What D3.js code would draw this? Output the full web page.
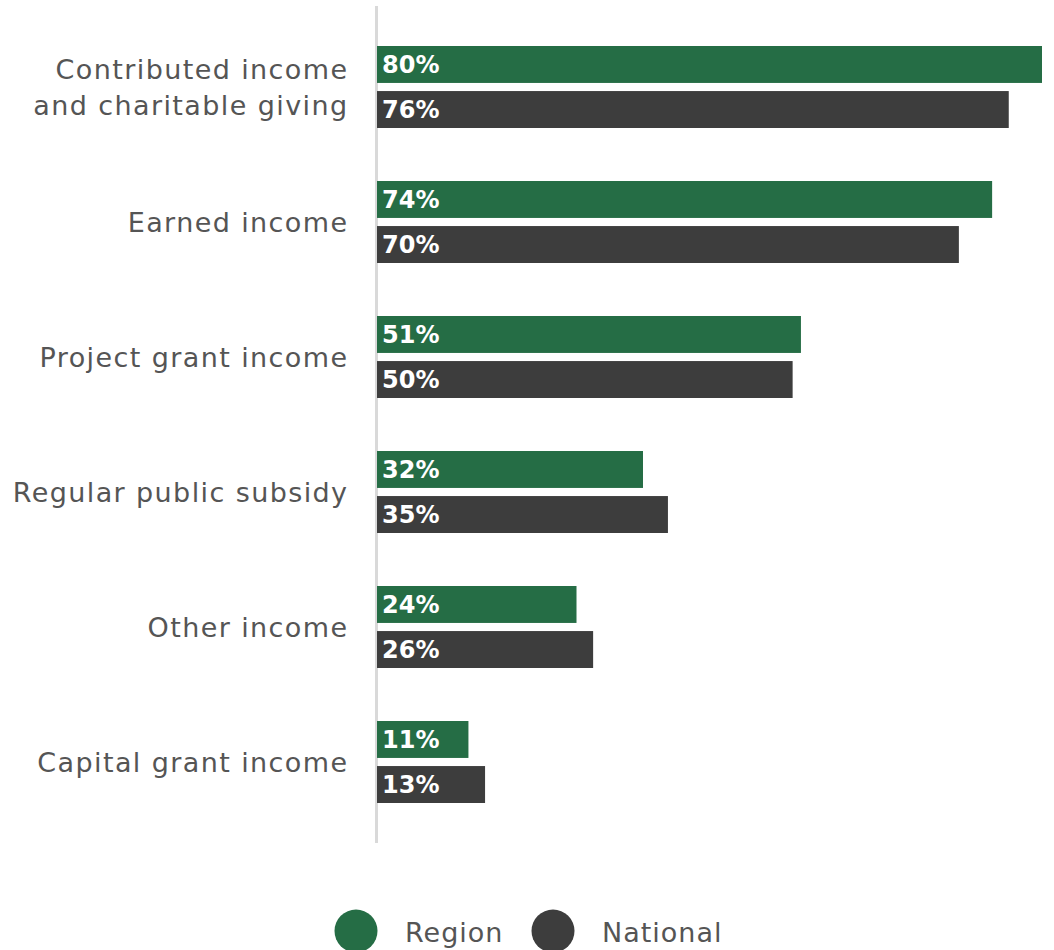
<!DOCTYPE html>
<html><head><meta charset="utf-8">
<script src="https://cdn.jsdelivr.net/npm/d3@7"></script>
<style>body{margin:0;background:#fff}svg{display:block}</style>
</head><body>
<script>
const categories = [["Contributed income","and charitable giving"],["Earned income"],["Project grant income"],["Regular public subsidy"],["Other income"],["Capital grant income"]];
const region = [80,74,51,32,24,11];
const national = [76,70,50,35,26,13];
const seriesNames = ["Region","National"];
const colors = ["#256d45","#3d3d3d"];

const W=1054,H=950;
const svg=d3.select("body").append("svg").attr("width",W).attr("height",H);
const font="'DejaVu Sans', sans-serif";

const x=d3.scaleLinear().domain([0,80]).range([377,1042]);
const y=d3.scaleBand().domain(d3.range(categories.length)).range([33.5,843.5]).paddingInner(0).paddingOuter(0);
const inner=d3.scaleBand().domain([0,1]).range([0,82]).paddingInner(0.18);

svg.append("line").attr("x1",376.5).attr("x2",376.5).attr("y1",6).attr("y2",843)
  .attr("stroke","#d9d9d9").attr("stroke-width",3);

const series=[region,national];
series.forEach((vals,si)=>{
  const g=svg.append("g");
  g.selectAll("rect").data(vals).join("rect")
    .attr("x",x(0)).attr("y",(d,i)=>y(i)+12.5+inner(si))
    .attr("width",d=>x(d)-x(0)).attr("height",inner.bandwidth())
    .attr("fill",colors[si]);
  g.selectAll("text").data(vals).join("text")
    .attr("x",x(0)+5).attr("y",(d,i)=>y(i)+12.5+inner(si)+inner.bandwidth()/2)
    .attr("dy","0.36em").attr("fill","#fff").attr("font-family",font)
    .attr("font-weight",700).attr("font-size",24).text(d=>d+"%");
});

const lab=svg.append("g");
categories.forEach((c,i)=>{
  const cy=y(i)+12.5+41;
  const t=lab.append("text").attr("x",348.5).attr("text-anchor","end")
    .attr("font-family",font).attr("font-size",27).attr("letter-spacing",1.4).attr("fill","#555");
  c.forEach((line,j)=>{
    t.append("tspan").attr("x",348.5).attr("y",cy+(j-(c.length-1)/2)*36).attr("dy","0.36em").text(line);
  });
});

const leg=svg.append("g");
const lx=[356,553];
seriesNames.forEach((n,i)=>{
  leg.append("circle").attr("cx",lx[i]).attr("cy",931).attr("r",21.5).attr("fill",colors[i]);
  leg.append("text").attr("x",lx[i]+49).attr("y",932).attr("dy","0.36em")
    .attr("font-family",font).attr("font-size",27).attr("letter-spacing",1).attr("fill","#555").text(n);
});
</script>
</body></html>
